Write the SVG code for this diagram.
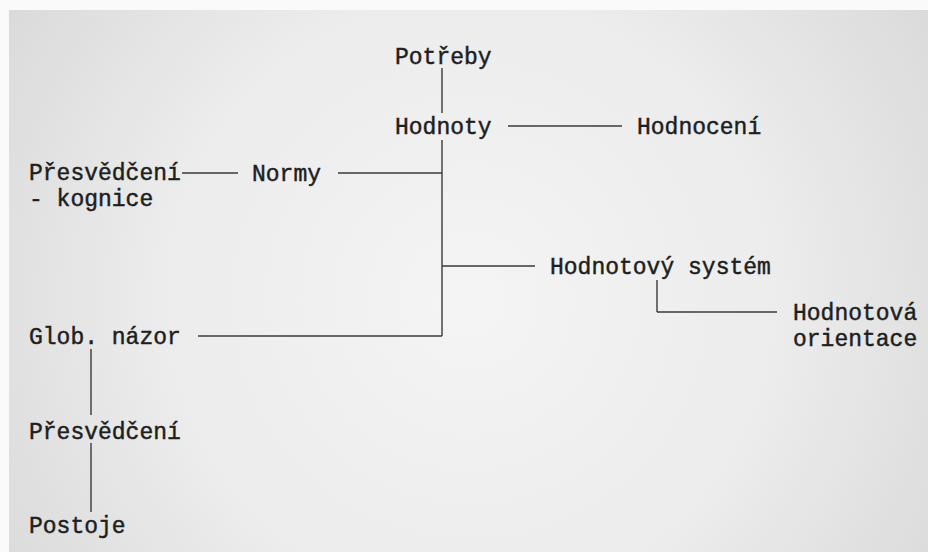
<svg xmlns="http://www.w3.org/2000/svg" width="928" height="552" viewBox="0 0 928 552">
<defs>
<radialGradient id="bg" cx="470" cy="300" r="560" gradientUnits="userSpaceOnUse">
<stop offset="0" stop-color="#f4f4f4"/>
<stop offset="0.55" stop-color="#ececec"/>
<stop offset="1" stop-color="#d9d9d9"/>
</radialGradient>
<style>
text{font-family:"Liberation Mono","Courier New",monospace;font-size:23px;fill:#1e1e1e;stroke:#1e1e1e;stroke-width:0.45px}
.c line{stroke:#3a3a3a;stroke-width:1.4;fill:none}
</style>
</defs>
<rect x="0" y="0" width="928" height="552" fill="#fafafa"/>
<rect x="9" y="10" width="919" height="542" fill="url(#bg)"/>
<g class="c" id="connectors">
<line x1="442" y1="68" x2="442" y2="113"/>
<line x1="508" y1="126" x2="622" y2="126"/>
<line x1="442" y1="140" x2="442" y2="336"/>
<line x1="338" y1="173" x2="442" y2="173"/>
<line x1="182" y1="173" x2="238" y2="173"/>
<line x1="442" y1="266" x2="535" y2="266"/>
<line x1="198" y1="336" x2="442" y2="336"/>
<line x1="657" y1="280" x2="657" y2="312"/>
<line x1="657" y1="312" x2="777" y2="312"/>
<line x1="91" y1="349" x2="91" y2="415"/>
<line x1="91" y1="443" x2="91" y2="512"/>
</g>
<g id="potreby"><text x="395" y="64">Potřeby</text></g>
<g id="hodnoty"><text x="395" y="134">Hodnoty</text></g>
<g id="hodnoceni"><text x="637" y="134">Hodnocení</text></g>
<g id="presvedceni-kognice"><text x="29" y="180">Přesvědčení</text><text x="29" y="206">- kognice</text></g>
<g id="normy"><text x="252" y="181">Normy</text></g>
<g id="hodnotovy-system"><text x="550" y="274">Hodnotový systém</text></g>
<g id="hodnotova-orientace"><text x="793" y="320">Hodnotová</text><text x="793" y="346">orientace</text></g>
<g id="glob-nazor"><text x="29" y="344">Glob. názor</text></g>
<g id="presvedceni"><text x="29" y="439">Přesvědčení</text></g>
<g id="postoje"><text x="29" y="533">Postoje</text></g>
</svg>
